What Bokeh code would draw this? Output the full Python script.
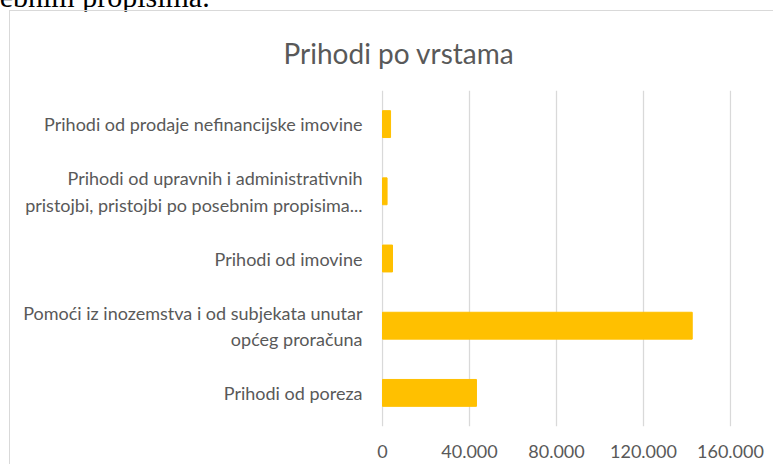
from bokeh.plotting import figure
from bokeh.models import FixedTicker, ColumnDataSource, Div
from bokeh.layouts import column
from bokeh.embed import file_html
from bokeh.resources import INLINE

categories = [
    "Prihodi od poreza",
    "Pomoći iz inozemstva i od subjekata unutar\nopćeg proračuna",
    "Prihodi od imovine",
    "Prihodi od upravnih i administrativnih\npristojbi, pristojbi po posebnim propisima...",
    "Prihodi od prodaje nefinancijske imovine",
]
values = [43200, 142400, 4600, 2100, 3700]
tick_values = [0, 40000, 80000, 120000, 160000]
tick_labels = ["0", "40.000", "80.000", "120.000", "160.000"]
doc_text = "posebnim propisima."

FONT = "Lato"
GRAY = "#595959"
GRID = "#d9d9d9"

src = ColumnDataSource(dict(cat=categories, val=values))

p = figure(width=764, height=454, y_range=categories, x_range=(-460, 160460),
           output_backend="svg", toolbar_location=None,
           title="Prihodi po vrstama")
p.styles = {"margin-left": "9px",
            "border-left": "1px solid #d9d9d9", "border-top": "1px solid #d9d9d9"}
p.margin = 0
p.min_border_left = 371
p.min_border_right = 43
p.min_border_top = 79
p.min_border_bottom = 39
p.outline_line_color = None

p.hbar(y="cat", right="val", height=0.4, source=src, color="#FFC000")

p.title.text_font = FONT
p.title.text_font_size = "28px"
p.title.text_font_style = "normal"
p.title.text_color = GRAY
p.title.align = "left"
p.title.offset = -98
p.title.standoff = 41

p.xaxis.ticker = FixedTicker(ticks=tick_values)
p.xaxis.major_label_overrides = {v: l for v, l in zip(tick_values, tick_labels)}
for ax in (p.xaxis[0], p.yaxis[0]):
    ax.axis_line_color = None
    ax.major_tick_line_color = None
    ax.minor_tick_line_color = None
    ax.major_label_text_font = FONT
    ax.major_label_text_font_size = "18px"
    ax.major_label_text_color = GRAY
p.xaxis.major_label_standoff = 12
p.yaxis.major_label_standoff = 13

p.xgrid.grid_line_color = GRID
p.xgrid.grid_line_width = 1.3
p.ygrid.grid_line_color = None

doc = Div(
    text=('<div style="position:relative; top:-18px; left:-42px; '
          'font-family:\'Liberation Serif\'; font-size:30px; line-height:30px; '
          'color:#000; white-space:nowrap;">' + doc_text + '</div>'),
    width=300, height=10, margin=0, styles={"overflow": "visible"})

layout = column(doc, p, spacing=0, margin=0)
open("out.html", "w").write(file_html(layout, INLINE))
